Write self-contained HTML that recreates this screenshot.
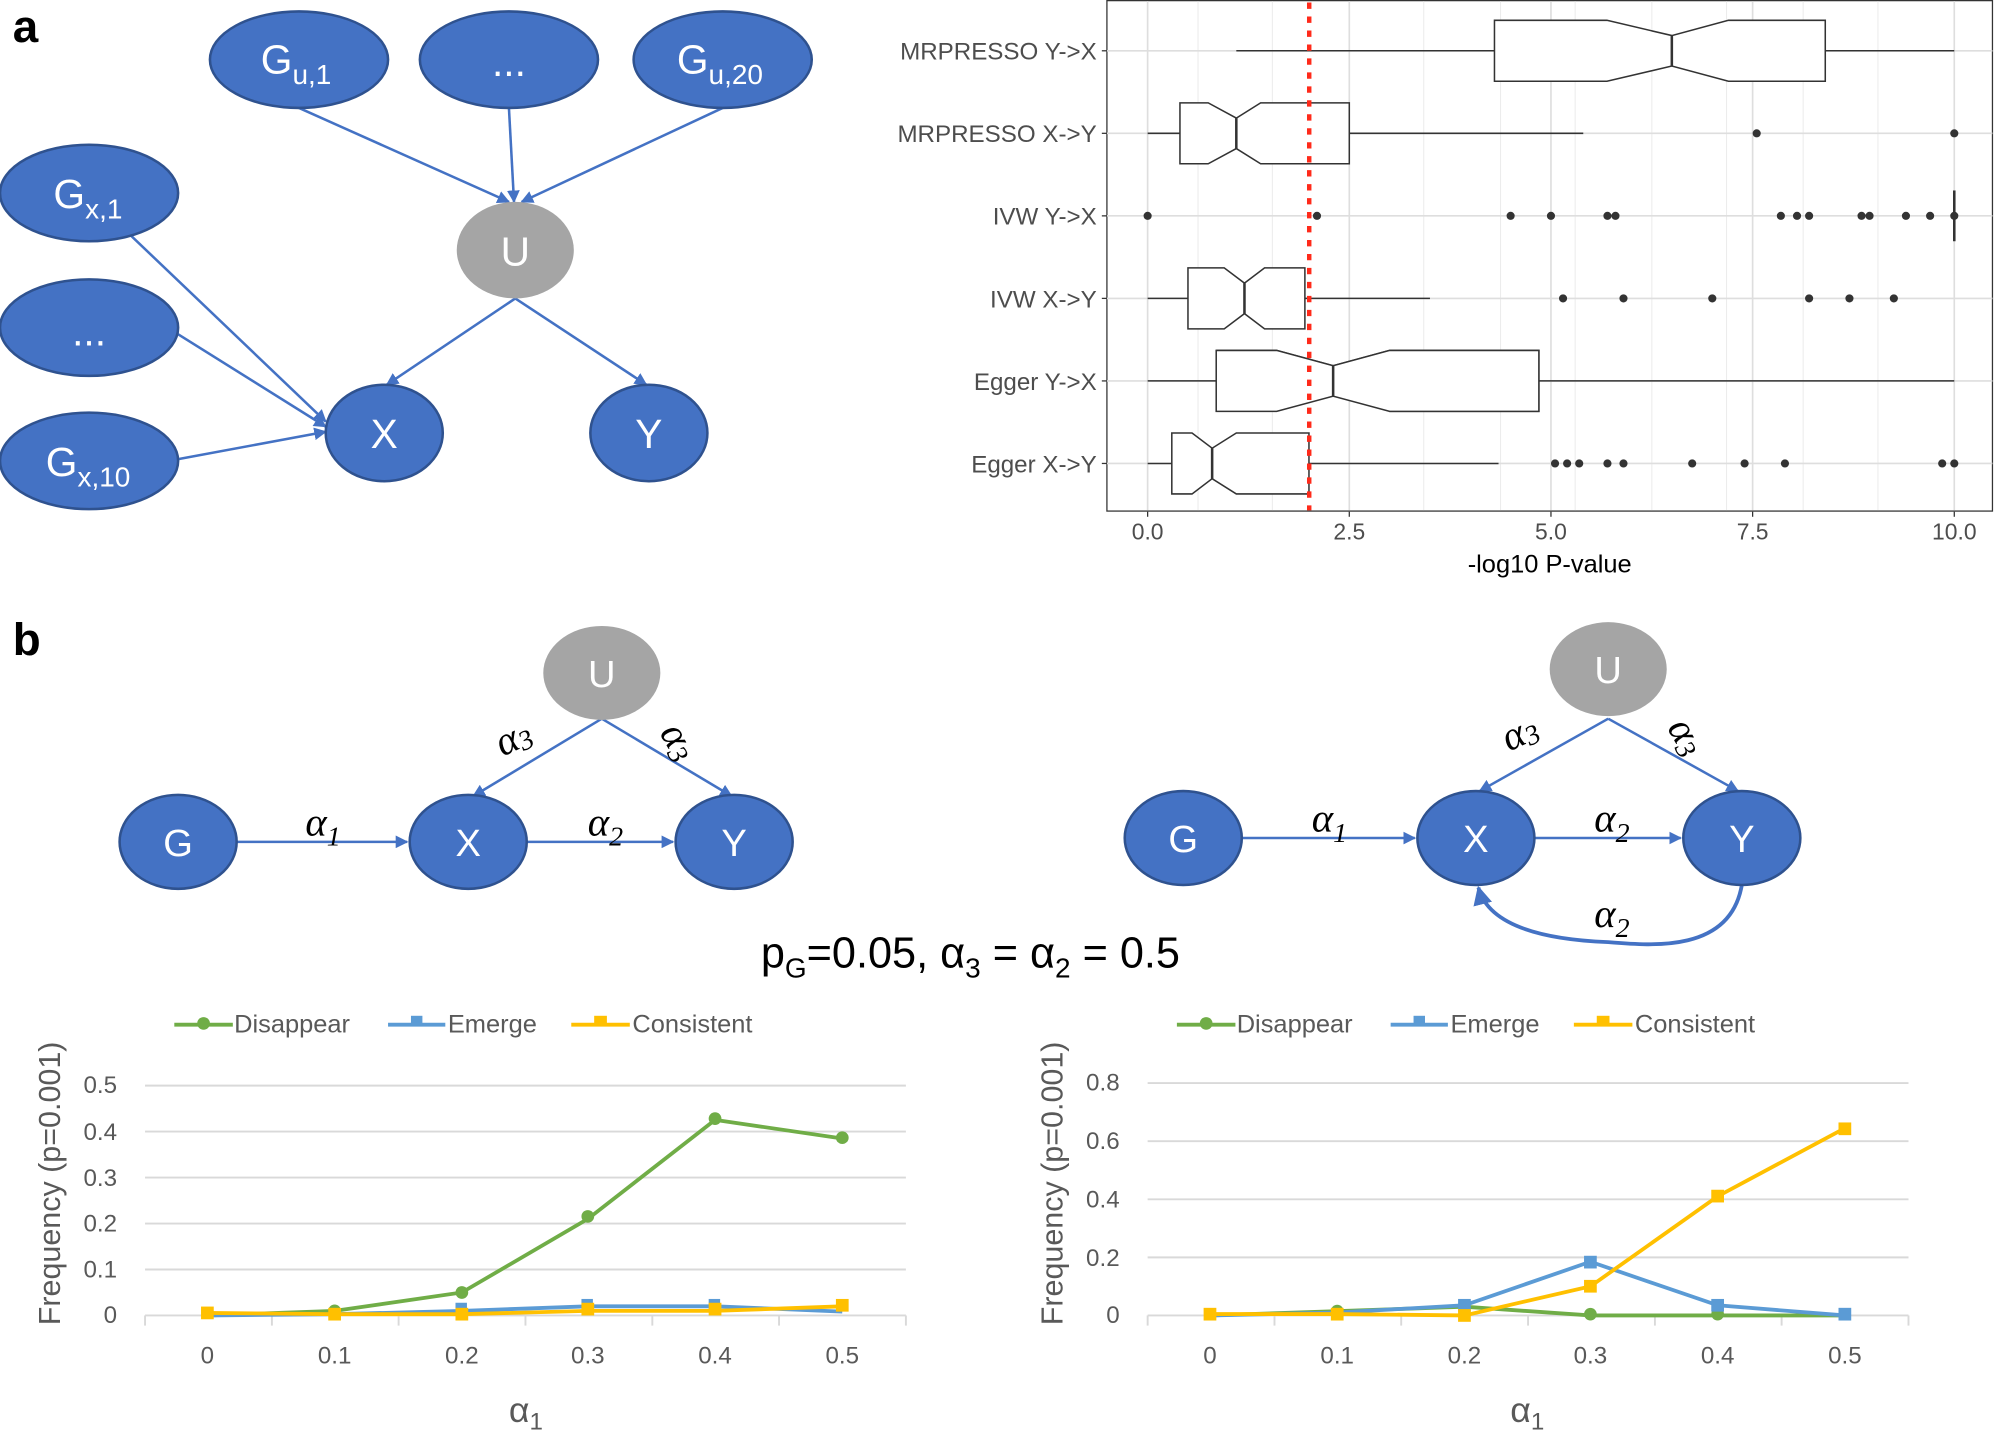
<!DOCTYPE html>
<html><head><meta charset="utf-8"><style>
html,body{margin:0;padding:0;background:#fff;}
svg{display:block;}
.n{font-family:"Liberation Sans Narrow","Liberation Sans",sans-serif;fill:#fff;}
.c{font-family:"Liberation Sans Narrow","Liberation Sans",sans-serif;fill:#595959;}
.g{font-family:"Liberation Sans",sans-serif;fill:#4d4d4d;}
</style></head><body>
<svg width="1995" height="1431" viewBox="0 0 1568 1127" preserveAspectRatio="none" xmlns="http://www.w3.org/2000/svg">
<defs>
<marker id="ar" viewBox="0 0 10 10" refX="9" refY="5" markerWidth="5" markerHeight="5" orient="auto"><path d="M0,0L10,5L0,10z" fill="#4472c4"/></marker>
</defs>
<text x="10" y="33" font-family="Liberation Sans" font-weight="bold" font-size="36" fill="#000">a</text>
<text x="10" y="516" font-family="Liberation Sans" font-weight="bold" font-size="36" fill="#000">b</text>

<g stroke="#4472c4" stroke-width="2" marker-end="url(#ar)" fill="none">
<line x1="235" y1="85" x2="400" y2="159"/>
<line x1="400" y1="85" x2="404" y2="159"/>
<line x1="568" y1="85" x2="410" y2="159"/>
<line x1="95" y1="178" x2="256" y2="332"/>
<line x1="138" y1="262" x2="256" y2="336"/>
<line x1="138" y1="362" x2="256" y2="340"/>
<line x1="405" y1="235" x2="304" y2="303"/>
<line x1="405" y1="235" x2="508" y2="303"/>
</g>
<g fill="#4472c4" stroke="#2f528f" stroke-width="2">
<ellipse cx="235" cy="47" rx="70" ry="38"/><ellipse cx="400" cy="47" rx="70" ry="38"/><ellipse cx="568" cy="47" rx="70" ry="38"/>
<ellipse cx="70" cy="152" rx="70" ry="38"/><ellipse cx="70" cy="258" rx="70" ry="38"/><ellipse cx="70" cy="363" rx="70" ry="38"/>
<ellipse cx="302" cy="341" rx="46" ry="38"/><ellipse cx="510" cy="341" rx="46" ry="38"/>
</g>
<ellipse cx="405" cy="197" rx="46" ry="38" fill="#a5a5a5"/>
<g class="n" font-size="32">
<text x="205" y="58">G<tspan font-size="22" dy="8">u,1</tspan></text>
<text x="400" y="60" text-anchor="middle">...</text>
<text x="532" y="58">G<tspan font-size="22" dy="8">u,20</tspan></text>
<text x="42" y="164">G<tspan font-size="22" dy="8">x,1</tspan></text>
<text x="70" y="272" text-anchor="middle">...</text>
<text x="36" y="375">G<tspan font-size="22" dy="8">x,10</tspan></text>
<text x="405" y="209" text-anchor="middle">U</text>
<text x="302" y="353" text-anchor="middle">X</text>
<text x="510" y="353" text-anchor="middle">Y</text>
</g>

<!-- boxplot -->
<rect x="870" y="0.5" width="696" height="402" fill="#fff" stroke="#333" stroke-width="1"/>
<g stroke="#ebebeb" stroke-width="0.8">
<line x1="941.6" y1="1" x2="941.6" y2="402"/><line x1="1060.5" y1="1" x2="1060.5" y2="402"/><line x1="1179.4" y1="1" x2="1179.4" y2="402"/><line x1="1298.3" y1="1" x2="1298.3" y2="402"/><line x1="1417.2" y1="1" x2="1417.2" y2="402"/><line x1="1536" y1="1" x2="1536" y2="402"/>
<line x1="902" y1="1" x2="902" y2="402"/><line x1="1000" y1="1" x2="1000" y2="402"/><line x1="1119" y1="1" x2="1119" y2="402"/><line x1="1238" y1="1" x2="1238" y2="402"/><line x1="1357" y1="1" x2="1357" y2="402"/><line x1="1476" y1="1" x2="1476" y2="402"/>
</g>
<g stroke="#dedede" stroke-width="1.3">
<line x1="902" y1="1" x2="902" y2="402"/><line x1="1060.5" y1="1" x2="1060.5" y2="402"/><line x1="1219" y1="1" x2="1219" y2="402"/><line x1="1377.5" y1="1" x2="1377.5" y2="402"/><line x1="1536" y1="1" x2="1536" y2="402"/>
<line x1="870" y1="40" x2="1566" y2="40"/><line x1="870" y1="105" x2="1566" y2="105"/><line x1="870" y1="170" x2="1566" y2="170"/><line x1="870" y1="235" x2="1566" y2="235"/><line x1="870" y1="300" x2="1566" y2="300"/><line x1="870" y1="365" x2="1566" y2="365"/>
</g>
<g stroke="#333" stroke-width="1.2" fill="#fff">
<line x1="971.7" y1="40" x2="1536" y2="40"/>
<path d="M1174.6,16H1263L1314,28L1358.5,16H1434.6V64H1358.5L1314,52L1263,64H1174.6Z"/>
<line x1="1314" y1="28" x2="1314" y2="52" stroke-width="2"/>
<line x1="902" y1="105" x2="1244.4" y2="105"/>
<path d="M927.4,81H949.6L971.7,93L990.8,81H1060.5V129H990.8L971.7,117L949.6,129H927.4Z"/>
<line x1="971.7" y1="93" x2="971.7" y2="117" stroke-width="2"/>
<line x1="1536" y1="150" x2="1536" y2="190" stroke-width="2"/>
<line x1="902" y1="235" x2="1123.9" y2="235"/>
<path d="M933.7,211H962.2L978.1,223L993.9,211H1025.6V259H993.9L978.1,247L962.2,259H933.7Z"/>
<line x1="978.1" y1="223" x2="978.1" y2="247" stroke-width="2"/>
<line x1="902" y1="300" x2="1536" y2="300"/>
<path d="M955.9,276H1003.4L1047.8,288L1092.2,324L1092.2,324H1209.5V276H1092.2L1047.8,288"/>
<path d="M955.9,276H1003.4L1047.8,288L1092.2,276H1209.5V324H1092.2L1047.8,312L1003.4,324H955.9Z"/>
<line x1="1047.8" y1="288" x2="1047.8" y2="312" stroke-width="2"/>
<line x1="902" y1="365" x2="1177.8" y2="365"/>
<path d="M921,341H936.9L952.7,353L971.7,341H1028.8V389H971.7L952.7,377L936.9,389H921Z"/>
<line x1="952.7" y1="353" x2="952.7" y2="377" stroke-width="2"/>
</g>
<g fill="#333">
<circle cx="1380.7" cy="105" r="3.2"/><circle cx="1536" cy="105" r="3.2"/>
<circle cx="902" cy="170" r="3.2"/><circle cx="1035.1" cy="170" r="3.2"/><circle cx="1187.3" cy="170" r="3.2"/><circle cx="1219" cy="170" r="3.2"/><circle cx="1263.4" cy="170" r="3.2"/><circle cx="1269.7" cy="170" r="3.2"/><circle cx="1399.7" cy="170" r="3.2"/><circle cx="1412.4" cy="170" r="3.2"/><circle cx="1421.9" cy="170" r="3.2"/><circle cx="1463.1" cy="170" r="3.2"/><circle cx="1469.4" cy="170" r="3.2"/><circle cx="1498" cy="170" r="3.2"/><circle cx="1517" cy="170" r="3.2"/><circle cx="1536" cy="170" r="3.2"/>
<circle cx="1228.5" cy="235" r="3.2"/><circle cx="1276" cy="235" r="3.2"/><circle cx="1345.8" cy="235" r="3.2"/><circle cx="1421.9" cy="235" r="3.2"/><circle cx="1453.6" cy="235" r="3.2"/><circle cx="1488.5" cy="235" r="3.2"/>
<circle cx="1222.2" cy="365" r="3.2"/><circle cx="1231.7" cy="365" r="3.2"/><circle cx="1241.2" cy="365" r="3.2"/><circle cx="1263.4" cy="365" r="3.2"/><circle cx="1276" cy="365" r="3.2"/><circle cx="1330" cy="365" r="3.2"/><circle cx="1371.2" cy="365" r="3.2"/><circle cx="1402.9" cy="365" r="3.2"/><circle cx="1526.5" cy="365" r="3.2"/><circle cx="1536" cy="365" r="3.2"/>
</g>
<line x1="1029" y1="2" x2="1029" y2="402" stroke="#ff2a1a" stroke-width="3.5" stroke-dasharray="5,6"/>
<g stroke="#333" stroke-width="1"><line x1="866" y1="40" x2="870" y2="40"/><line x1="866" y1="105" x2="870" y2="105"/><line x1="866" y1="170" x2="870" y2="170"/><line x1="866" y1="235" x2="870" y2="235"/><line x1="866" y1="300" x2="870" y2="300"/><line x1="866" y1="365" x2="870" y2="365"/>
<line x1="902" y1="403" x2="902" y2="407"/><line x1="1060.5" y1="403" x2="1060.5" y2="407"/><line x1="1219" y1="403" x2="1219" y2="407"/><line x1="1377.5" y1="403" x2="1377.5" y2="407"/><line x1="1536" y1="403" x2="1536" y2="407"/></g>
<g class="g" font-size="19" text-anchor="end">
<text x="862" y="47">MRPRESSO Y-&gt;X</text><text x="862" y="112">MRPRESSO X-&gt;Y</text><text x="862" y="177">IVW Y-&gt;X</text><text x="862" y="242">IVW X-&gt;Y</text><text x="862" y="307">Egger Y-&gt;X</text><text x="862" y="372">Egger X-&gt;Y</text>
</g>
<g class="g" font-size="18" text-anchor="middle">
<text x="902" y="425">0.0</text><text x="1060.5" y="425">2.5</text><text x="1219" y="425">5.0</text><text x="1377.5" y="425">7.5</text><text x="1536" y="425">10.0</text>
</g>
<text x="1218" y="451" font-family="Liberation Sans" font-size="20" fill="#000" text-anchor="middle">-log10 P-value</text>

<!-- panel b diagrams -->
<g stroke="#4472c4" stroke-width="2" marker-end="url(#ar)" fill="none">
<line x1="473" y1="566" x2="372" y2="627"/><line x1="473" y1="566" x2="575" y2="627"/>
<line x1="186" y1="663" x2="320" y2="663"/><line x1="414" y1="663" x2="529" y2="663"/>
<line x1="1264" y1="566" x2="1163" y2="623"/><line x1="1264" y1="566" x2="1366" y2="623"/>
<line x1="976" y1="660" x2="1112" y2="660"/><line x1="1206" y1="660" x2="1321" y2="660"/>
<path d="M1369,697 C1360,750 1300,745 1264,742 C1215,740 1170,730 1162,699" stroke-width="3"/>
</g>
<g fill="#4472c4" stroke="#2f528f" stroke-width="2">
<ellipse cx="140" cy="663" rx="46" ry="37"/><ellipse cx="368" cy="663" rx="46" ry="37"/><ellipse cx="577" cy="663" rx="46" ry="37"/>
<ellipse cx="930" cy="660" rx="46" ry="37"/><ellipse cx="1160" cy="660" rx="46" ry="37"/><ellipse cx="1369" cy="660" rx="46" ry="37"/>
</g>
<ellipse cx="473" cy="530" rx="46" ry="37" fill="#a5a5a5"/><ellipse cx="1264" cy="527" rx="46" ry="37" fill="#a5a5a5"/>
<g class="n" font-size="30" text-anchor="middle">
<text x="140" y="674">G</text><text x="368" y="674">X</text><text x="577" y="674">Y</text><text x="473" y="541">U</text>
<text x="930" y="671">G</text><text x="1160" y="671">X</text><text x="1369" y="671">Y</text><text x="1264" y="538">U</text>
</g>
<g font-family="Liberation Serif" font-style="italic" font-size="32" fill="#000">
<text x="240" y="658">α<tspan font-size="22" dy="8">1</tspan></text>
<text x="462" y="658">α<tspan font-size="22" dy="8">2</tspan></text>
<text x="1031" y="655">α<tspan font-size="22" dy="8">1</tspan></text>
<text x="1253" y="655">α<tspan font-size="22" dy="8">2</tspan></text>
<text x="1253" y="730">α<tspan font-size="22" dy="8">2</tspan></text>
<text x="0" y="0" transform="translate(395,596) rotate(-25)">α<tspan font-size="22" dy="3">3</tspan></text>
<text x="0" y="0" transform="translate(518,577) rotate(60)">α<tspan font-size="22" dy="3">3</tspan></text>
<text x="0" y="0" transform="translate(1186,592) rotate(-25)">α<tspan font-size="22" dy="3">3</tspan></text>
<text x="0" y="0" transform="translate(1310,573) rotate(60)">α<tspan font-size="22" dy="3">3</tspan></text>
</g>
<text x="598" y="762" font-family="Liberation Sans Narrow,Liberation Sans,sans-serif" font-size="34" fill="#000">p<tspan font-size="22" dy="8">G</tspan><tspan dy="-8">=0.05, α</tspan><tspan font-size="22" dy="8">3</tspan><tspan dy="-8"> = α</tspan><tspan font-size="22" dy="8">2</tspan><tspan dy="-8"> = 0.5</tspan></text>

<!-- left line chart -->
<g stroke="#d9d9d9" stroke-width="1.5">
<line x1="114" y1="855" x2="712" y2="855"/><line x1="114" y1="891.2" x2="712" y2="891.2"/><line x1="114" y1="927.4" x2="712" y2="927.4"/><line x1="114" y1="963.6" x2="712" y2="963.6"/><line x1="114" y1="999.8" x2="712" y2="999.8"/><line x1="114" y1="1036" x2="712" y2="1036"/>
<line x1="114" y1="1036" x2="114" y2="1044"/><line x1="213.7" y1="1036" x2="213.7" y2="1044"/><line x1="313.3" y1="1036" x2="313.3" y2="1044"/><line x1="413" y1="1036" x2="413" y2="1044"/><line x1="512.7" y1="1036" x2="512.7" y2="1044"/><line x1="612.3" y1="1036" x2="612.3" y2="1044"/><line x1="712" y1="1036" x2="712" y2="1044"/>
</g>
<g class="c" font-size="19" text-anchor="end">
<text x="92" y="1042">0</text><text x="92" y="1006">0.1</text><text x="92" y="970">0.2</text><text x="92" y="934">0.3</text><text x="92" y="898">0.4</text><text x="92" y="861">0.5</text>
</g>
<g class="c" font-size="19" text-anchor="middle">
<text x="163" y="1074">0</text><text x="263" y="1074">0.1</text><text x="363" y="1074">0.2</text><text x="462" y="1074">0.3</text><text x="562" y="1074">0.4</text><text x="662" y="1074">0.5</text>
</g>
<text class="c" x="0" y="0" font-size="24" text-anchor="middle" transform="translate(47,932) rotate(-90)" font-family="Liberation Sans">Frequency (p=0.001)</text>
<text class="c" x="400" y="1120" font-size="28" font-family="Liberation Serif">α<tspan font-size="19" dy="6">1</tspan></text>
<polyline points="163,1036 263,1032.4 363,1017.9 462,960 562,882 662,896.6" fill="none" stroke="#70ad47" stroke-width="3"/>
<g fill="#70ad47"><circle cx="263" cy="1032.4" r="5"/><circle cx="363" cy="1017.9" r="5"/><circle cx="462" cy="958" r="5"/><circle cx="562" cy="881" r="5"/><circle cx="662" cy="896" r="5"/></g>
<polyline points="163,1036 263,1035 363,1032.4 462,1028.8 562,1028.8 662,1033" fill="none" stroke="#5b9bd5" stroke-width="3"/>
<g fill="#5b9bd5"><rect x="358" y="1026" width="9" height="9"/><rect x="457" y="1023" width="9" height="9"/><rect x="557" y="1023" width="9" height="9"/></g>
<polyline points="163,1034 263,1035 363,1035 462,1032.4 562,1032.4 662,1028.8" fill="none" stroke="#ffc000" stroke-width="3"/>
<g fill="#ffc000"><rect x="158" y="1029" width="10" height="10"/><rect x="258" y="1030" width="10" height="10"/><rect x="358" y="1030" width="10" height="10"/><rect x="457" y="1026" width="10" height="10"/><rect x="557" y="1026" width="10" height="10"/><rect x="657" y="1023" width="10" height="10"/></g>
<g class="c" font-size="20">
<line x1="137" y1="807" x2="183" y2="807" stroke="#70ad47" stroke-width="3"/><circle cx="160" cy="806" r="5" fill="#70ad47"/><text x="184" y="813">Disappear</text>
<line x1="305" y1="807" x2="350" y2="807" stroke="#5b9bd5" stroke-width="3"/><rect x="323" y="800" width="9" height="8" fill="#5b9bd5"/><text x="352" y="813">Emerge</text>
<line x1="449" y1="807" x2="495" y2="807" stroke="#ffc000" stroke-width="3"/><rect x="467" y="800" width="10" height="8" fill="#ffc000"/><text x="497" y="813">Consistent</text>
</g>

<!-- right line chart -->
<g stroke="#d9d9d9" stroke-width="1.5">
<line x1="902" y1="853" x2="1500" y2="853"/><line x1="902" y1="898.75" x2="1500" y2="898.75"/><line x1="902" y1="944.5" x2="1500" y2="944.5"/><line x1="902" y1="990.25" x2="1500" y2="990.25"/><line x1="902" y1="1036" x2="1500" y2="1036"/>
<line x1="902" y1="1036" x2="902" y2="1044"/><line x1="1001.7" y1="1036" x2="1001.7" y2="1044"/><line x1="1101.3" y1="1036" x2="1101.3" y2="1044"/><line x1="1201" y1="1036" x2="1201" y2="1044"/><line x1="1300.7" y1="1036" x2="1300.7" y2="1044"/><line x1="1400.3" y1="1036" x2="1400.3" y2="1044"/><line x1="1500" y1="1036" x2="1500" y2="1044"/>
</g>
<g class="c" font-size="19" text-anchor="end">
<text x="880" y="1042">0</text><text x="880" y="997">0.2</text><text x="880" y="951">0.4</text><text x="880" y="905">0.6</text><text x="880" y="859">0.8</text>
</g>
<g class="c" font-size="19" text-anchor="middle">
<text x="951" y="1074">0</text><text x="1051" y="1074">0.1</text><text x="1151" y="1074">0.2</text><text x="1250" y="1074">0.3</text><text x="1350" y="1074">0.4</text><text x="1450" y="1074">0.5</text>
</g>
<text class="c" x="0" y="0" font-size="24" text-anchor="middle" transform="translate(835,932) rotate(-90)" font-family="Liberation Sans">Frequency (p=0.001)</text>
<text class="c" x="1187" y="1120" font-size="28" font-family="Liberation Serif">α<tspan font-size="19" dy="6">1</tspan></text>
<polyline points="951,1036 1051,1032.6 1151,1029.1 1250,1036 1350,1036 1450,1036" fill="none" stroke="#70ad47" stroke-width="3"/>
<g fill="#70ad47"><circle cx="1051" cy="1032.6" r="5"/><circle cx="1250" cy="1035" r="5"/><circle cx="1350" cy="1035" r="5"/></g>
<polyline points="951,1036 1051,1033.7 1151,1028 1250,993.7 1350,1028 1450,1036" fill="none" stroke="#5b9bd5" stroke-width="3"/>
<g fill="#5b9bd5"><rect x="1146" y="1023" width="10" height="10"/><rect x="1245" y="989" width="10" height="10"/><rect x="1345" y="1023" width="10" height="10"/><rect x="1445" y="1030" width="10" height="10"/></g>
<polyline points="951,1034.9 1051,1034.9 1151,1036 1250,1013.1 1350,942.2 1450,888.5" fill="none" stroke="#ffc000" stroke-width="3"/>
<g fill="#ffc000"><rect x="946" y="1030" width="10" height="10"/><rect x="1046" y="1030" width="10" height="10"/><rect x="1146" y="1031" width="10" height="10"/><rect x="1245" y="1008" width="10" height="10"/><rect x="1345" y="937" width="10" height="10"/><rect x="1445" y="884" width="10" height="10"/></g>
<g class="c" font-size="20">
<line x1="925" y1="807" x2="971" y2="807" stroke="#70ad47" stroke-width="3"/><circle cx="948" cy="806" r="5" fill="#70ad47"/><text x="972" y="813">Disappear</text>
<line x1="1093" y1="807" x2="1138" y2="807" stroke="#5b9bd5" stroke-width="3"/><rect x="1111" y="800" width="9" height="8" fill="#5b9bd5"/><text x="1140" y="813">Emerge</text>
<line x1="1237" y1="807" x2="1283" y2="807" stroke="#ffc000" stroke-width="3"/><rect x="1255" y="800" width="10" height="8" fill="#ffc000"/><text x="1285" y="813">Consistent</text>
</g>
</svg>
</body></html>
